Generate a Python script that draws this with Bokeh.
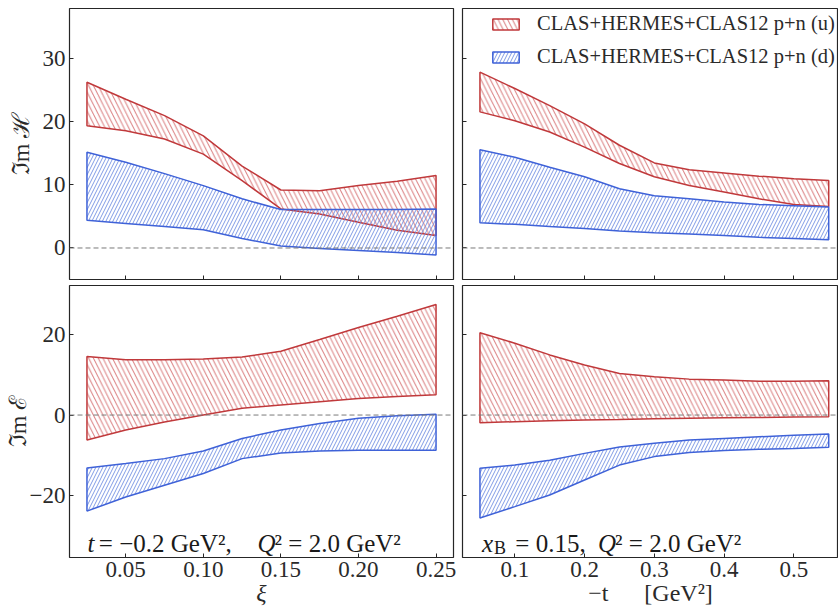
from bokeh.plotting import figure
from bokeh.layouts import column, row
from bokeh.models import Range1d, FixedTicker, Span, Label, Legend, LegendItem
from bokeh.embed import file_html
from bokeh.resources import INLINE

# ---------------- data ----------------
xi = [0.025, 0.05, 0.075, 0.10, 0.125, 0.15, 0.175, 0.20, 0.225, 0.25]
mt = [0.05, 0.10, 0.15, 0.20, 0.25, 0.30, 0.35, 0.40, 0.45, 0.50, 0.55]

# Im H vs xi
H_u_hi_xi = [26.3, 23.6, 21.0, 17.8, 13.0, 9.2, 9.1, 9.9, 10.6, 11.5]
H_u_lo_xi = [19.4, 18.6, 17.3, 14.9, 10.7, 6.2, 5.4, 4.1, 2.8, 2.0]
H_d_hi_xi = [15.2, 13.6, 11.8, 9.9, 7.8, 6.1, 6.1, 6.1, 6.1, 6.2]
H_d_lo_xi = [4.4, 3.9, 3.4, 2.9, 1.5, 0.3, -0.1, -0.4, -0.7, -1.1]

# Im H vs -t
H_u_hi_t = [27.9, 25.3, 22.6, 19.7, 16.3, 13.5, 12.4, 11.9, 11.4, 11.0, 10.7]
H_u_lo_t = [21.6, 20.2, 18.4, 16.0, 13.4, 11.3, 9.9, 8.9, 7.8, 6.9, 6.6]
H_d_hi_t = [15.6, 14.4, 12.8, 11.3, 9.4, 8.3, 7.8, 7.3, 6.9, 6.7, 6.5]
H_d_lo_t = [4.0, 3.75, 3.4, 3.1, 2.7, 2.4, 2.2, 2.0, 1.7, 1.5, 1.3]

# Im E vs xi
E_u_hi_xi = [14.5, 13.7, 13.7, 13.9, 14.4, 15.8, 18.7, 21.7, 24.5, 27.4]
E_u_lo_xi = [-6.2, -3.7, -1.7, 0.0, 1.7, 2.5, 3.3, 4.1, 4.6, 5.0]
E_d_hi_xi = [-13.1, -12.0, -10.8, -8.9, -5.8, -3.7, -2.1, -0.8, -0.2, 0.2]
E_d_lo_xi = [-23.8, -20.3, -17.4, -14.5, -10.8, -9.4, -8.9, -8.7, -8.7, -8.7]

# Im E vs -t
E_u_hi_t = [20.4, 17.8, 14.9, 12.4, 10.3, 9.5, 8.9, 8.7, 8.4, 8.4, 8.5]
E_u_lo_t = [-1.9, -1.65, -1.4, -1.2, -1.1, -0.9, -0.8, -0.7, -0.6, -0.5, -0.4]
E_d_hi_t = [-13.2, -12.4, -11.2, -9.5, -7.9, -7.0, -6.2, -5.8, -5.4, -5.0, -4.7]
E_d_lo_t = [-25.5, -22.7, -19.8, -16.1, -12.4, -10.3, -9.3, -8.8, -8.5, -8.3, -8.0]

xi_ticks = [0.05, 0.10, 0.15, 0.20, 0.25]
xi_tick_labels = ["0.05", "0.10", "0.15", "0.20", "0.25"]
t_ticks = [0.1, 0.2, 0.3, 0.4, 0.5]
t_tick_labels = ["0.1", "0.2", "0.3", "0.4", "0.5"]
H_ticks = [0, 10, 20, 30]
H_tick_labels = ["0", "10", "20", "30"]
E_ticks = [-20, 0, 20]
E_tick_labels = ["\u221220", "0", "20"]

label_u = "CLAS+HERMES+CLAS12 p+n (u)"
label_d = "CLAS+HERMES+CLAS12 p+n (d)"

# ---------------- style ----------------
SERIF = "Liberation Serif"
RED_LINE = "#c0393b"
RED_HATCH = "#d26466"
BLUE_LINE = "#3f62d8"
BLUE_HATCH = "#6a8ae0"
FRAME = "#262626"
TXT = "#2a2a2a"

XI_RANGE = (0.01375, 0.26125)
T_RANGE = (0.025, 0.564)
H_RANGE = (-5.0, 38.0)
E_RANGE = (-35.3, 32.1)


def make_fig(width, height, xr, yr, left, right, top, bottom):
    p = figure(width=width, height=height, output_backend="svg", toolbar_location=None,
               x_range=Range1d(*xr), y_range=Range1d(*yr),
               min_border_left=left, min_border_right=right,
               min_border_top=top, min_border_bottom=bottom)
    p.grid.visible = False
    p.background_fill_color = "white"
    p.border_fill_color = "white"
    p.outline_line_color = FRAME
    p.outline_line_width = 1.2
    for ax in (p.xaxis[0], p.yaxis[0]):
        ax.axis_line_color = None
        ax.major_tick_in = 4
        ax.major_tick_out = 0
        ax.minor_tick_in = 0
        ax.minor_tick_out = 0
        ax.major_tick_line_color = FRAME
        ax.major_tick_line_width = 1
        ax.major_label_text_font = SERIF
        ax.major_label_text_font_size = "23px"
        ax.major_label_text_color = TXT
        ax.major_label_standoff = 4
        ax.axis_label_text_font = SERIF
        ax.axis_label_text_font_size = "24px"
        ax.axis_label_text_color = TXT
        ax.axis_label_text_font_style = "normal"
    p.add_layout(Span(location=0, dimension="width", line_color="#7a7a7a",
                      line_dash="5 3", line_width=1))
    return p


def band(p, x, hi, lo, line, hatch, pattern, scale):
    xs = list(x) + list(x)[::-1]
    ys = list(hi) + list(lo)[::-1]
    return p.patch(xs, ys, fill_color=None, line_color=line, line_width=1.5,
                   hatch_pattern=pattern, hatch_color=hatch, hatch_alpha=0.85,
                   hatch_scale=scale, hatch_weight=1.0)


def set_ticks(axis, ticks, labels, show):
    axis.ticker = FixedTicker(ticks=ticks)
    if show:
        axis.major_label_overrides = {t: l for t, l in zip(ticks, labels)}
    else:
        axis.major_label_text_font_size = "1px"
        axis.major_label_text_color = None
        axis.major_label_standoff = 0


RS, BS = 9.5, 7

# top-left
p1 = make_fig(457, 282, XI_RANGE, H_RANGE, 69, 4, 8, 3)
band(p1, xi, H_u_hi_xi, H_u_lo_xi, RED_LINE, RED_HATCH, "\\", RS)
band(p1, xi, H_d_hi_xi, H_d_lo_xi, BLUE_LINE, BLUE_HATCH, "/", BS)
set_ticks(p1.xaxis[0], xi_ticks, xi_tick_labels, False)
set_ticks(p1.yaxis[0], H_ticks, H_tick_labels, True)
p1.yaxis[0].axis_label = "\u2111m \u210b"
p1.yaxis[0].axis_label_standoff = 6

# top-right
p2 = make_fig(381, 282, T_RANGE, H_RANGE, 5, 0, 8, 3)
ru = band(p2, mt, H_u_hi_t, H_u_lo_t, RED_LINE, RED_HATCH, "\\", RS)
rd = band(p2, mt, H_d_hi_t, H_d_lo_t, BLUE_LINE, BLUE_HATCH, "/", BS)
set_ticks(p2.xaxis[0], t_ticks, t_tick_labels, False)
set_ticks(p2.yaxis[0], H_ticks, H_tick_labels, False)
legend = Legend(items=[LegendItem(label=label_u, renderers=[ru]),
                       LegendItem(label=label_d, renderers=[rd])],
                location=(27, 211), padding=0, margin=0, spacing=10,
                glyph_width=33, glyph_height=14, label_height=22, label_standoff=15,
                label_text_font=SERIF, label_text_font_size="20.5px",
                label_text_color=TXT, border_line_color=None,
                background_fill_alpha=0)
p2.add_layout(legend)

# bottom-left
p3 = make_fig(457, 333, XI_RANGE, E_RANGE, 69, 4, 3, 58)
band(p3, xi, E_u_hi_xi, E_u_lo_xi, RED_LINE, RED_HATCH, "\\", RS)
band(p3, xi, E_d_hi_xi, E_d_lo_xi, BLUE_LINE, BLUE_HATCH, "/", BS)
set_ticks(p3.xaxis[0], xi_ticks, xi_tick_labels, True)
set_ticks(p3.yaxis[0], E_ticks, E_tick_labels, True)
p3.yaxis[0].axis_label = "\u2111m \u2130"
p3.yaxis[0].axis_label_standoff = -4
p3.xaxis[0].axis_label = "\u03be"
p3.xaxis[0].axis_label_text_font_style = "italic"
p3.xaxis[0].axis_label_standoff = 0

# bottom-right
p4 = make_fig(381, 333, T_RANGE, E_RANGE, 5, 0, 3, 58)
band(p4, mt, E_u_hi_t, E_u_lo_t, RED_LINE, RED_HATCH, "\\", RS)
band(p4, mt, E_d_hi_t, E_d_lo_t, BLUE_LINE, BLUE_HATCH, "/", BS)
set_ticks(p4.xaxis[0], t_ticks, t_tick_labels, True)
set_ticks(p4.yaxis[0], E_ticks, E_tick_labels, False)
p4.xaxis[0].axis_label = "\u2212t\u2002\u2002\u2002[GeV\u00b2]"
p4.xaxis[0].axis_label_standoff = 0


def txt(p, x, y, s, dx=0, dy=0, italic=False, size="25px"):
    p.add_layout(Label(x=x, y=y, text=s, x_offset=dx, y_offset=dy,
                       text_font=SERIF, text_font_size=size,
                       text_font_style="italic" if italic else "normal",
                       text_color="#1a1a1a", text_baseline="alphabetic",
                       text_align="left"))


# annotation bottom-left: t = -0.2 GeV^2, Q^2 = 2.0 GeV^2
ax0, ay0 = 0.0254, -31.8
txt(p3, ax0, ay0, "t", 0, 0, True)
txt(p3, ax0, ay0, "\u00a0= \u22120.2 GeV\u00b2,", 5)
txt(p3, ax0, ay0, "Q", 170, 0, True)
txt(p3, ax0, ay0, "\u00b2 = 2.0 GeV\u00b2", 187)

# annotation bottom-right: x_B = 0.15, Q^2 = 2.0 GeV^2
bx0, by0 = 0.053, -31.8
txt(p4, bx0, by0, "x", 0, 0, True)
txt(p4, bx0, by0, "B", 12, -5, False, "18px")
txt(p4, bx0, by0, "\u00a0= 0.15,", 27)
txt(p4, bx0, by0, "Q", 116, 0, True)
txt(p4, bx0, by0, "\u00b2 = 2.0 GeV\u00b2", 133)

layout = column(row(p1, p2, spacing=0), row(p3, p4, spacing=0), spacing=0)
open("out.html", "w").write(file_html(layout, INLINE))
